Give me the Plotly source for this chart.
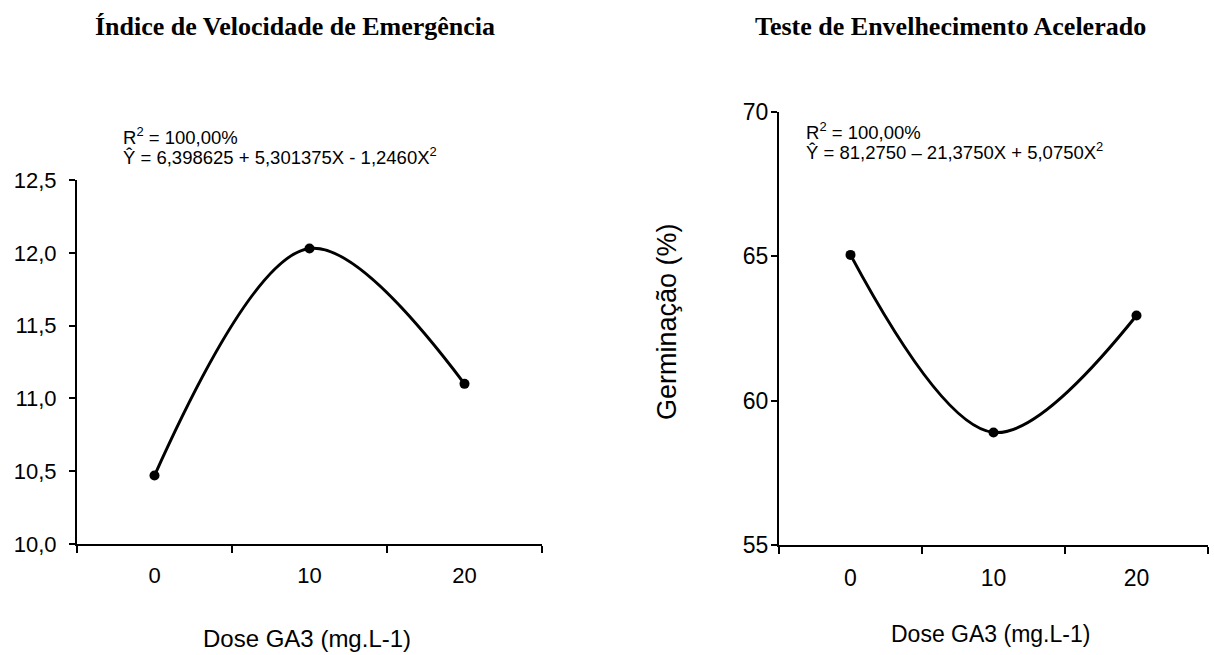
import plotly.graph_objects as go

# ---- data ----
doses = [0, 10, 20]
dose_labels = ["0", "10", "20"]
ive_values = [10.47, 12.03, 11.10]          # Índice de Velocidade de Emergência
tea_values = [65.05, 58.90, 62.95]          # Teste de Envelhecimento Acelerado (%)
tick_bounds = [-5, 5, 15, 25]

title_left = "Índice de Velocidade de Emergência"
title_right = "Teste de Envelhecimento Acelerado"
eq_left_r2 = "R<sup>2</sup> = 100,00%"
eq_left = "Ŷ = 6,398625 + 5,301375X - 1,2460X<sup>2</sup>"
eq_right_r2 = "R<sup>2</sup> = 100,00%"
eq_right = "Ŷ = 81,2750 – 21,3750X + 5,0750X<sup>2</sup>"
x_title = "Dose GA3 (mg.L-1)"
y_title_right = "Germinação (%)"

W, H = 1214, 655
SANS = "Liberation Sans, Arial, sans-serif"
NARROW = "Liberation Sans Narrow, Arial Narrow, Liberation Sans, Arial, sans-serif"
SERIF = "Liberation Serif, Times New Roman, serif"


def px(x):
    return x / W


def py(y):
    return 1 - y / H


fig = go.Figure()
fig.add_trace(go.Scatter(x=doses, y=ive_values, mode="lines+markers",
                         line=dict(color="black", width=3, shape="spline", smoothing=1.0),
                         marker=dict(color="black", size=10),
                         xaxis="x", yaxis="y", showlegend=False))
fig.add_trace(go.Scatter(x=doses, y=tea_values, mode="lines+markers",
                         line=dict(color="black", width=3, shape="spline", smoothing=1.0),
                         marker=dict(color="black", size=10),
                         xaxis="x2", yaxis="y2", showlegend=False))

common_x = dict(range=[-5, 25], tickvals=doses, ticktext=dose_labels, ticks="",
                showline=True, linecolor="black", linewidth=2, showgrid=False,
                zeroline=False, fixedrange=True, automargin=False,
                minor=dict(tickvals=tick_bounds, ticks="outside", ticklen=7,
                           tickwidth=2, tickcolor="black", showgrid=False))
common_y = dict(ticks="outside", ticklen=6, tickwidth=2, tickcolor="black",
                showline=True, linecolor="black", linewidth=2, showgrid=False,
                zeroline=False, fixedrange=True, automargin=False)

fig.update_layout(
    width=W, height=H, margin=dict(l=0, r=0, t=0, b=0, pad=0, autoexpand=False),
    paper_bgcolor="white", plot_bgcolor="white",
    separators=",.", showlegend=False,
    xaxis=dict(domain=[px(77), px(542)], anchor="y",
               tickfont=dict(family=SANS, size=22, color="black"),
               ticklabelstandoff=11, **common_x),
    yaxis=dict(domain=[py(544), py(180)], anchor="x", range=[10, 12.5],
               tick0=10, dtick=0.5, tickformat=".1f",
               tickfont=dict(family=SANS, size=22, color="black"),
               ticklabelstandoff=8, **common_y),
    xaxis2=dict(domain=[px(779), px(1208)], anchor="y2",
                tickfont=dict(family=NARROW, size=23, color="black"),
                ticklabelstandoff=11, **common_x),
    yaxis2=dict(domain=[py(545), py(112)], anchor="x2", range=[55, 70],
                tick0=55, dtick=5,
                tickfont=dict(family=NARROW, size=23, color="black"),
                ticklabelstandoff=-2, **common_y),
)

ann = []
ann.append(dict(text="<b>" + title_left + "</b>", x=px(295), y=py(27),
                font=dict(family=SERIF, size=26, color="black")))
ann.append(dict(text="<b>" + title_right + "</b>", x=px(950), y=py(27),
                font=dict(family=SERIF, size=26, color="black")))
ann.append(dict(text=x_title, x=px(307), y=py(638),
                font=dict(family=SANS, size=24, color="black")))
ann.append(dict(text=x_title, x=px(990), y=py(634),
                font=dict(family=SANS, size=23, color="black")))
ann.append(dict(text=y_title_right, x=px(667), y=py(322), textangle=-90,
                font=dict(family=SANS, size=27, color="black")))
for t, x, y in [(eq_left_r2, 121, 136), (eq_left, 121, 156),
                (eq_right_r2, 804, 131), (eq_right, 804, 151)]:
    ann.append(dict(text=t, x=px(x), y=py(y), xanchor="left",
                    font=dict(family=SANS, size=18.5, color="black")))

for a in ann:
    a.setdefault("xanchor", "center")
    a.update(xref="paper", yref="paper", yanchor="middle", showarrow=False)
fig.update_layout(annotations=ann)

fig.write_html("out.html", config={"displayModeBar": False},
               post_script="document.body.style.margin='0';document.body.style.overflow='hidden';")
